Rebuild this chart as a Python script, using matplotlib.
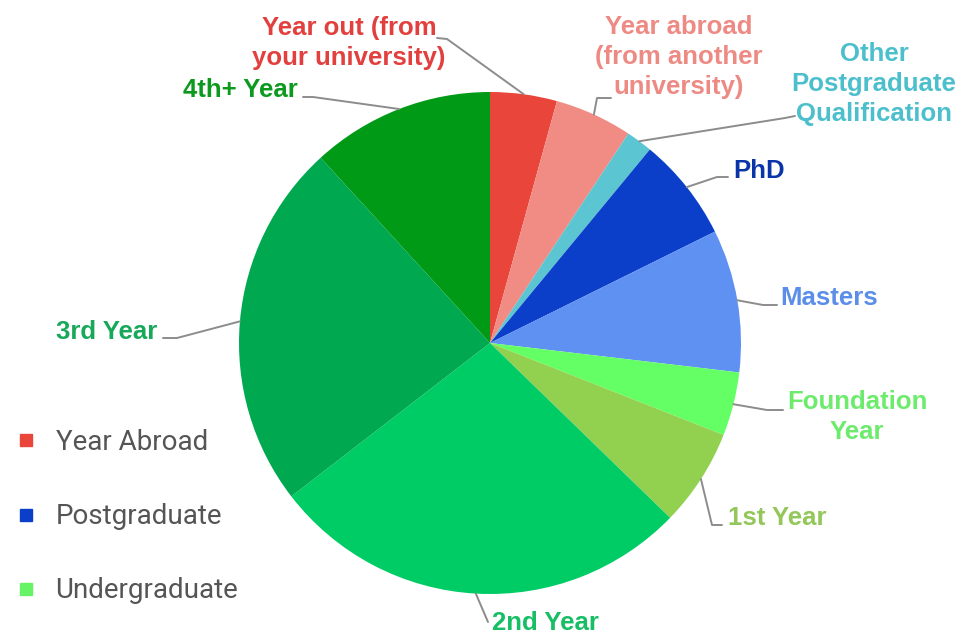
import matplotlib
matplotlib.use("Agg")
import numpy as np
import matplotlib.pyplot as plt
from matplotlib.lines import Line2D

# ---- data -------------------------------------------------------------
categories = [
    "Year out (from\nyour university)",
    "Year abroad\n(from another\nuniversity)",
    "Other\nPostgraduate\nQualification",
    "PhD",
    "Masters",
    "Foundation\nYear",
    "1st Year",
    "2nd Year",
    "3rd Year",
    "4th+ Year",
]
shares = [4.3, 5.0, 1.7, 6.7, 9.2, 4.1, 6.3, 27.3, 23.7, 11.8]

groups = ["Year Abroad", "Postgraduate", "Undergraduate"]

# ---- styling ----------------------------------------------------------
slice_colors = ["#E9453B", "#F08C84", "#5BC5D2", "#0B3FC9", "#5E91F2",
                "#64FF64", "#92D050", "#00CC66", "#00A950", "#009A17"]
label_colors = ["#E2403E", "#EE8A84", "#4CBFCC", "#0A35A8", "#5B8EE8",
                "#6CEB6C", "#93C75A", "#17BE64", "#18A85A", "#0C9A1E"]
group_colors = ["#E9453B", "#0B3FC9", "#66F466"]

W, H = 968, 634
CX, CY, R = 490, 343, 251          # pie centre / radius in pixels (y from top)

# label anchor (x, y from top), alignment and leader-line elbow points
label_layout = [
    dict(pos=(349, 43), ha="center", path=[(437, 38), (447, 39)]),
    dict(pos=(679, 57), ha="center", path=[(611, 98), (597, 98)]),
    dict(pos=(874, 84), ha="center", path=[(795, 116), (785, 118)]),
    dict(pos=(733, 171), ha="left", path=[(728, 177), (717, 177)]),
    dict(pos=(780, 298), ha="left", path=[(777, 305), (763, 305)]),
    dict(pos=(857, 417), ha="center", path=[(783, 410), (767, 410)]),
    dict(pos=(728, 518), ha="left", path=[(722, 525), (712, 525)]),
    dict(pos=(492, 623), ha="left", path=[(488, 622)]),
    dict(pos=(157, 332), ha="right", path=[(163, 338), (177, 338)]),
    dict(pos=(183, 90), ha="left", path=[(303, 97), (313, 97)]),
]

fig = plt.figure(figsize=(W / 100, H / 100), dpi=100)
ax = fig.add_axes([0, 0, 1, 1])

wedges, _ = ax.pie(shares, colors=slice_colors, startangle=90,
                   counterclock=False, center=(CX, H - CY), radius=R,
                   wedgeprops=dict(linewidth=0))
ax.set_xlim(0, W)
ax.set_ylim(0, H)
ax.set_aspect("equal")
ax.axis("off")

label_font = dict(family=["Liberation Sans", "DejaVu Sans"],
                  fontsize=18.5, fontweight="bold")

for wedge, text, col, lay in zip(wedges, categories, label_colors, label_layout):
    mid = np.deg2rad((wedge.theta1 + wedge.theta2) / 2)
    edge = (CX + R * np.cos(mid), H - CY + R * np.sin(mid))
    pts = [(x, H - y) for x, y in lay["path"]] + [edge]
    xs, ys = zip(*pts)
    ax.plot(xs, ys, color="#8C8C8C", lw=1.4, solid_capstyle="round", zorder=3)
    ax.text(lay["pos"][0], H - lay["pos"][1], text, ha=lay["ha"], va="center",
            color=col, multialignment="center", linespacing=1.3, **label_font)

handles = [Line2D([], [], marker="s", ls="", color=c, markersize=8) for c in group_colors]
fig.legend(handles, groups, loc="upper left", bbox_to_anchor=(18 / W, 1 - 429 / H),
           frameon=False, borderpad=0, borderaxespad=0, handlelength=0.6,
           handletextpad=0.75, labelspacing=1.7,
           prop=dict(family=["Roboto", "DejaVu Sans"], size=20),
           labelcolor="#555555")

fig.savefig("out.png", dpi=100)
